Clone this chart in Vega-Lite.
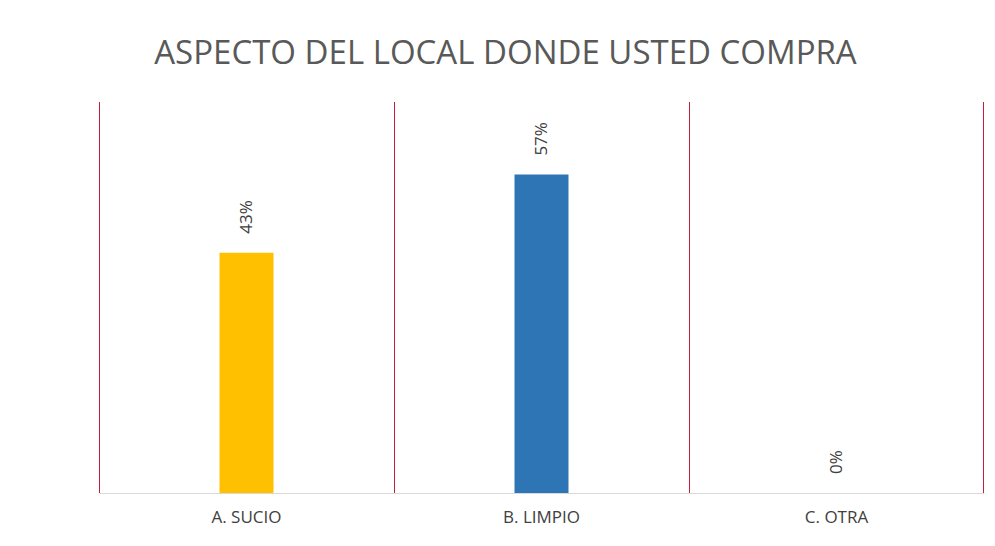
{
  "$schema": "https://vega.github.io/schema/vega-lite/v6.json",
  "width": 885,
  "height": 391,
  "autosize": {"type": "none"},
  "padding": {"left": 99, "top": 102, "right": 11, "bottom": 53},
  "background": "white",
  "config": {"view": {"stroke": null}, "font": "Open Sans"},
  "title": {
    "text": "ASPECTO DEL LOCAL DONDE USTED COMPRA",
    "font": "Open Sans",
    "fontSize": 33,
    "fontWeight": 500,
    "color": "#595959",
    "anchor": "middle",
    "dx": -36,
    "offset": 31
  },
  "data": {
    "values": [
      {"cat": "A. SUCIO", "value": 0.43},
      {"cat": "B. LIMPIO", "value": 0.57},
      {"cat": "C. OTRA", "value": 0}
    ]
  },
  "encoding": {
    "x": {
      "field": "cat",
      "type": "nominal",
      "sort": null,
      "scale": {"paddingInner": 0, "paddingOuter": 0},
      "axis": {
        "title": null,
        "labelAngle": 0,
        "ticks": false,
        "grid": false,
        "domainColor": "#d9d9d9",
        "labelFontSize": 17,
        "labelColor": "#404040",
        "labelFont": "Open Sans",
        "labelPadding": 16
      }
    }
  },
  "layer": [
    {
      "mark": {"type": "rule", "color": "#c41e3a", "strokeWidth": 1, "xOffset": 0.5},
      "encoding": {"x": {"field": "cat", "type": "nominal", "sort": null, "bandPosition": 0}}
    },
    {
      "transform": [{"filter": "datum.cat === 'C. OTRA'"}],
      "mark": {"type": "rule", "color": "#c41e3a", "strokeWidth": 1, "xOffset": -0.5},
      "encoding": {"x": {"field": "cat", "type": "nominal", "sort": null, "bandPosition": 1}}
    },
    {
      "mark": {"type": "bar", "width": {"band": 0.183}},
      "encoding": {
        "y": {"field": "value", "type": "quantitative", "scale": {"domain": [0, 0.7]}, "axis": null},
        "color": {
          "field": "cat",
          "type": "nominal",
          "sort": null,
          "scale": {"range": ["#FFC000", "#2E75B6", "#A5A5A5"]},
          "legend": null
        }
      }
    },
    {
      "mark": {
        "type": "text",
        "angle": 270,
        "align": "left",
        "baseline": "middle",
        "dx": 19,
        "fontSize": 17,
        "font": "Open Sans",
        "color": "#404040"
      },
      "encoding": {
        "y": {"field": "value", "type": "quantitative", "scale": {"domain": [0, 0.7]}, "axis": null},
        "text": {"field": "value", "type": "quantitative", "format": ".0%"}
      }
    }
  ]
}
